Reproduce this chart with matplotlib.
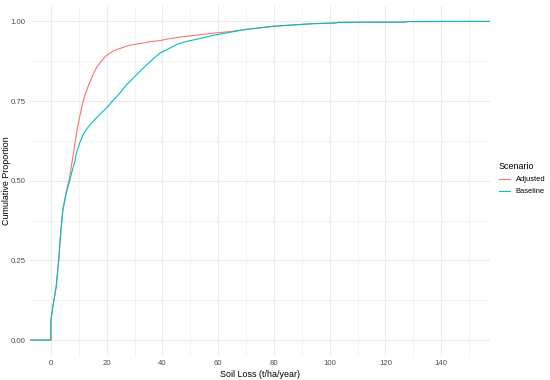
import numpy as np
import matplotlib
matplotlib.use("Agg")
import matplotlib.pyplot as plt
from matplotlib.ticker import MultipleLocator

plt.rcParams['font.family'] = ['Liberation Sans', 'DejaVu Sans']

# ---- data ----
scenarios = ["Adjusted", "Baseline"]
adjusted_x = [0, 0.6, 1.9, 2.8, 3.5, 4.3, 5.5, 6.7, 7.6, 8.5, 9.4, 10.3, 11.2,
              12.1, 13.5, 15.1, 16.5, 18.1, 19.5, 21.1, 22.8, 24.7, 28, 33.1,
              36, 39.2, 42, 45.8, 52.3, 58, 64.3, 70, 80, 94, 102, 103, 127,
              128, 150]
adjusted_y = [0.06, 0.10, 0.168, 0.252, 0.336, 0.409, 0.465, 0.51, 0.56, 0.61,
              0.66, 0.70, 0.737, 0.765, 0.80, 0.833, 0.857, 0.875, 0.89, 0.90,
              0.909, 0.915, 0.925, 0.932, 0.937, 0.940, 0.945, 0.950, 0.957,
              0.963, 0.968, 0.975, 0.985, 0.993, 0.995, 0.997, 0.998, 0.9995,
              1.0]
baseline_x = [0, 0.6, 1.9, 2.8, 3.5, 4.3, 5.5, 6.7, 7.6, 8.5, 9.1, 10.3, 11.5,
              13.3, 15.1, 17.5, 19.9, 22.3, 24.7, 27, 29.5, 32, 34.4, 37, 39.2,
              42.8, 45.8, 49, 52.3, 58, 64.3, 70, 80, 94, 102, 103, 127, 128,
              150]
baseline_y = [0.06, 0.10, 0.168, 0.252, 0.336, 0.409, 0.461, 0.50, 0.53, 0.558,
              0.585, 0.618, 0.644, 0.668, 0.686, 0.708, 0.728, 0.752, 0.775,
              0.80, 0.822, 0.844, 0.864, 0.885, 0.901, 0.917, 0.93, 0.938,
              0.944, 0.956, 0.966, 0.975, 0.985, 0.993, 0.995, 0.997, 0.998,
              0.9995, 1.0]
x_ticks = [0, 20, 40, 60, 80, 100, 120, 140]
y_ticks = [0.00, 0.25, 0.50, 0.75, 1.00]
y_tick_labels = ["0.00", "0.25", "0.50", "0.75", "1.00"]
colors = {"Adjusted": "#F8766D", "Baseline": "#00BFC4"}

XMIN, XMAX = -7.5, 157.5
YMIN, YMAX = -0.05, 1.05

fig = plt.figure(figsize=(5.5, 3.8), dpi=100)
fig.patch.set_facecolor("white")
ax = fig.add_axes([30 / 550, 24 / 380, 460 / 550, 350.5 / 380])
ax.set_facecolor("white")

grid_c = "#EBEBEB"
ax.xaxis.set_major_locator(MultipleLocator(20))
ax.xaxis.set_minor_locator(MultipleLocator(10))
ax.yaxis.set_major_locator(MultipleLocator(0.25))
ax.yaxis.set_minor_locator(MultipleLocator(0.125))
ax.grid(which="major", color=grid_c, lw=0.75)
ax.grid(which="minor", color=grid_c, lw=0.4)
ax.set_axisbelow(True)

data = {"Adjusted": (adjusted_x, adjusted_y), "Baseline": (baseline_x, baseline_y)}
handles = []
for name in scenarios:
    xs, ys = data[name]
    px = np.r_[XMIN, xs[0], xs, XMAX]
    py = np.r_[0.0, 0.0, ys, ys[-1]]
    h, = ax.plot(px, py, color=colors[name], lw=0.8, label=name,
                 solid_joinstyle="round")
    handles.append(h)

ax.set_xlim(XMIN, XMAX)
ax.set_ylim(YMIN, YMAX)
ax.set_xticks(x_ticks)
ax.set_yticks(y_ticks)
ax.set_yticklabels(y_tick_labels)
for s in ax.spines.values():
    s.set_visible(False)
ax.tick_params(which="both", length=0, labelsize=5.6, labelcolor="#4D4D4D", pad=3)

ax.set_xlabel("Soil Loss (t/ha/year)", fontsize=6.4, color="black", labelpad=2)
fig.text(6.5 / 550, 1 - 181 / 380, "Cumulative Proportion", fontsize=6.4,
         color="black", rotation=90, ha="center", va="center")

leg = ax.legend(handles=handles, labels=scenarios, title="Scenario",
                loc="upper left", bbox_to_anchor=(499 / 550, 1 - 162 / 380),
                bbox_transform=fig.transFigure, frameon=False, fontsize=5.4,
                title_fontsize=6.4, alignment="left", handlelength=1.4,
                handletextpad=0.8, labelspacing=0.65, borderpad=0,
                borderaxespad=0)

fig.savefig("out.png", dpi=100, facecolor="white")
